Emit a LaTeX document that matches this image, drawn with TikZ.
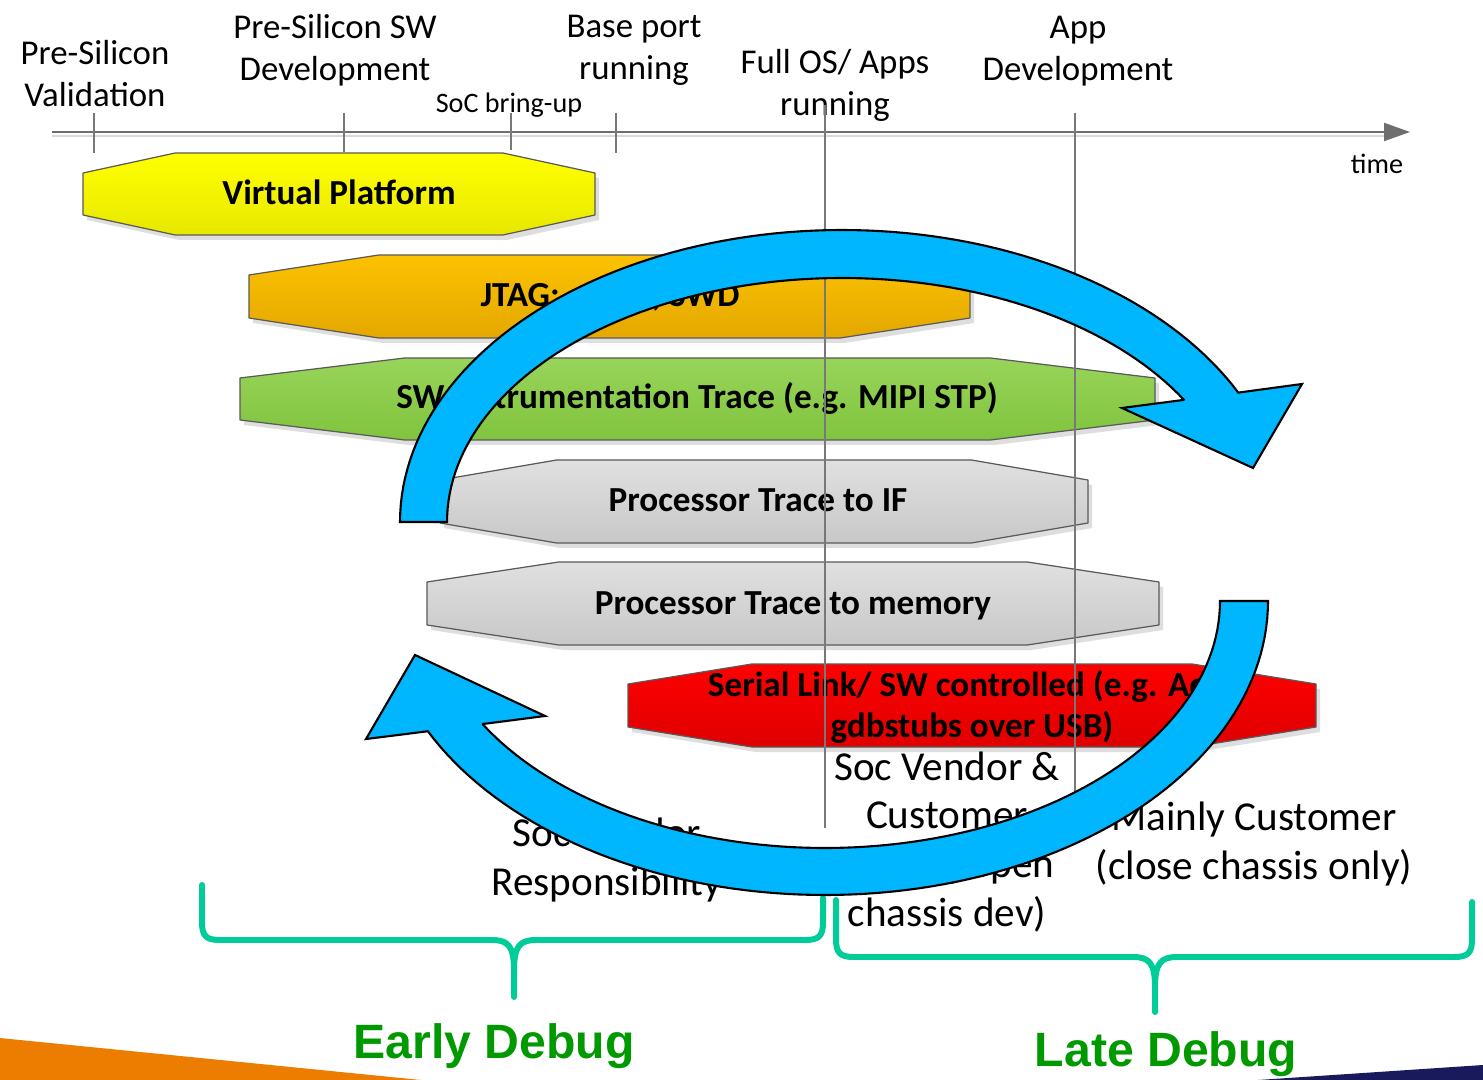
\documentclass[tikz,border=0pt]{standalone}
\usepackage{fontspec}
\setmainfont{Carlito}
\newfontfamily\headfont{Liberation Sans}
\usetikzlibrary{arrows.meta,calc}

\definecolor{vptop}{RGB}{255,255,0}
\definecolor{vpbot}{RGB}{232,232,0}
\definecolor{jtagtop}{RGB}{252,194,0}
\definecolor{jtagbot}{RGB}{228,168,0}
\definecolor{swtop}{RGB}{152,212,90}
\definecolor{swbot}{RGB}{128,196,62}
\definecolor{graytop}{RGB}{224,224,224}
\definecolor{graybot}{RGB}{200,200,200}
\definecolor{redtop}{RGB}{255,0,0}
\definecolor{redbot}{RGB}{222,0,0}
\definecolor{bannerline}{RGB}{90,90,90}
\definecolor{bannershade}{RGB}{222,222,222}
\definecolor{cycleblue}{RGB}{0,183,255}
\definecolor{bracketteal}{RGB}{0,204,153}
\definecolor{debuggreen}{RGB}{0,153,0}
\definecolor{accentorange}{RGB}{236,125,0}
\definecolor{accentnavy}{RGB}{24,26,92}
\definecolor{axisgray}{RGB}{110,110,110}
\definecolor{guidegray}{RGB}{120,120,120}

% octagonal banner: x1, x2, y1 (top), y2 (bottom), top colour, bottom colour
\newcommand\bannershape[6]{%
  \pgfmathsetmacro\bnA{#1+0.18*(#2-#1)}%
  \pgfmathsetmacro\bnB{#2-0.18*(#2-#1)}%
  \pgfmathsetmacro\bnC{#3+20}%
  \pgfmathsetmacro\bnD{#4-20}%
  \fill[bannershade, shift={(4,5)}] (#1,\bnC) -- (\bnA,#3) -- (\bnB,#3) -- (#2,\bnC)
     -- (#2,\bnD) -- (\bnB,#4) -- (\bnA,#4) -- (#1,\bnD) -- cycle;
  \path[draw=bannerline, line width=0.35pt, top color=#5, bottom color=#6]
     (#1,\bnC) -- (\bnA,#3) -- (\bnB,#3) -- (#2,\bnC)
     -- (#2,\bnD) -- (\bnB,#4) -- (\bnA,#4) -- (#1,\bnD) -- cycle;
}

\begin{document}
\begin{tikzpicture}[x=0.01cm, y=-0.01cm, line join=round,
  axislabel/.style={font=\fontsize{9.9}{11.95}\selectfont, align=center, inner sep=0pt, anchor=base},
  smalllabel/.style={font=\fontsize{8}{9.6}\selectfont, inner sep=0pt, anchor=base},
  bannertext/.style={font=\bfseries\fontsize{10}{11.4}\selectfont, align=center, inner sep=0pt, anchor=base},
  rolelabel/.style={font=\fontsize{11.7}{13.8}\selectfont, align=center, inner sep=0pt, anchor=base},
  phaselabel/.style={font=\headfont\bfseries\fontsize{13.7}{16}\selectfont, text=debuggreen, inner sep=0pt, anchor=base},
  tickline/.style={draw=guidegray, line width=0.35pt},
  guideline/.style={draw=guidegray, line width=0.4pt},
  bracket/.style={draw=bracketteal, line width=1.7pt, line cap=round, line join=round},
  cyclearrow/.style={fill=cycleblue, draw=black, line width=0.6pt, line join=miter}
]
\useasboundingbox (0,0) rectangle (1483,1080);
\fill[white] (0,0) rectangle (1483,1080);

% corner accents
\fill[accentorange] (0,1038) -- (421,1080) -- (0,1080) -- cycle;
\fill[accentnavy] (1258,1080) -- (1483,1065) -- (1483,1080) -- cycle;

% time axis
\coordinate (axisL) at (52,132);
\coordinate (axisR) at (1410,132);
\draw[gray!30, line width=0.6pt] ($(axisL)+(0,4)$) -- ($(axisR)+(-20,4)$);
\draw[axisgray, line width=0.6pt, -{Triangle[length=0.26cm,width=0.18cm]}] (axisL) -- (axisR);

% milestone ticks
\coordinate (t1a) at (94,113);  \coordinate (t1b) at (94,153);
\coordinate (t2a) at (344,113); \coordinate (t2b) at (344,152);
\coordinate (t3a) at (511,113); \coordinate (t3b) at (511,150);
\coordinate (t4a) at (616,113); \coordinate (t4b) at (616,153);
\draw[tickline] (t1a) -- (t1b);
\draw[tickline] (t2a) -- (t2b);
\draw[tickline] (t3a) -- (t3b);
\draw[tickline] (t4a) -- (t4b);

% milestone labels (anchored at the baseline of their last line)
\node[axislabel] (psv)  at (95,107)  {Pre-Silicon\\Validation};
\node[axislabel] (pssw) at (335,81) {Pre-Silicon SW\\Development};
\node[smalllabel] (soc) at (509,113) {SoC bring-up};
\node[axislabel] (base) at (634,80) {Base port\\running};
\node[axislabel] (full) at (835,116) {Full OS/ Apps\\running};
\node[axislabel] (app)  at (1078,81) {App\\Development};
\node[smalllabel] (time) at (1377,174) {time};

% debug technology banners
\bannershape{83}{595}{153}{235}{vptop}{vpbot}
\node[bannertext] (vp) at (339,205) {Virtual Platform};
\bannershape{249}{970}{255}{338}{jtagtop}{jtagbot}
\node[bannertext] (jtag) at (610,307) {JTAG: cJTAG, SWD};
\bannershape{240}{1155}{358}{440}{swtop}{swbot}
\node[bannertext] (swit) at (697,409) {SW Instrumentation Trace (e.g. MIPI STP)};
\bannershape{440}{1088}{460}{543}{graytop}{graybot}
\node[bannertext] (ptif) at (758,512) {Processor Trace to IF};
\bannershape{427}{1159}{562}{645}{graytop}{graybot}
\node[bannertext] (ptmem) at (793,614) {Processor Trace to memory};
\bannershape{628}{1316}{664}{747}{redtop}{redbot}
\node[bannertext] (serial) at (972,737) {Serial Link/ SW controlled (e.g. Adb,\\gdbstubs over USB)};

% phase guide lines
\coordinate (g1a) at (825,105);  \coordinate (g1b) at (825,828);
\coordinate (g2a) at (1075,113); \coordinate (g2b) at (1075,828);
\draw[guideline] (g1a) -- (g1b);
\draw[guideline] (g2a) -- (g2b);

% responsibility labels
\node[rolelabel] (vendor) at (607,895) {Soc Vendor\\Responsibility};
\node[rolelabel] (shared) at (947,926) {Soc Vendor \&\\Customer\\(during open\\chassis dev)};
\node[rolelabel] (customer) at (1254,879) {Mainly Customer\\(close chassis only)};

% phase brackets
\draw[bracket] (202,885) -- (202,922) .. controls (202,936) and (206,940) .. (220,940)
  -- (492,940) .. controls (508,940) and (514,946) .. (514,970) -- (514,997)
  -- (514,970) .. controls (514,946) and (520,940) .. (536,940)
  -- (805,940) .. controls (819,940) and (823,936) .. (823,922) -- (823,898);
\draw[bracket] (836,900) -- (836,939) .. controls (836,953) and (840,957) .. (854,957)
  -- (1133,957) .. controls (1149,957) and (1155,963) .. (1155,987) -- (1155,1012)
  -- (1155,987) .. controls (1155,963) and (1161,957) .. (1177,957)
  -- (1454,957) .. controls (1468,957) and (1472,953) .. (1472,939) -- (1472,902);

\node[phaselabel] (early) at (494,1058) {Early Debug};
\node[phaselabel] (late) at (1166,1066) {Late Debug};

% debug cycle arrows
\path[cyclearrow]
  plot[domain=180:333.7, samples=90] ({842+442*cos(\x)},{522+292*sin(\x)})
  -- (1302,384) -- (1253,468) -- (1122,408) -- (1183,400)
  -- plot[domain=329.9:180, samples=90] ({842+395*cos(\x)},{522+244*sin(\x)})
  -- cycle;
\path[cyclearrow]
  plot[domain=0:153.7, samples=90] ({825+443*cos(\x)},{601+294*sin(\x)})
  -- (366,739) -- (415,655) -- (545,716) -- (483,724)
  -- plot[domain=150:0, samples=90] ({825+395*cos(\x)},{601+247*sin(\x)})
  -- cycle;
\end{tikzpicture}
\end{document}
